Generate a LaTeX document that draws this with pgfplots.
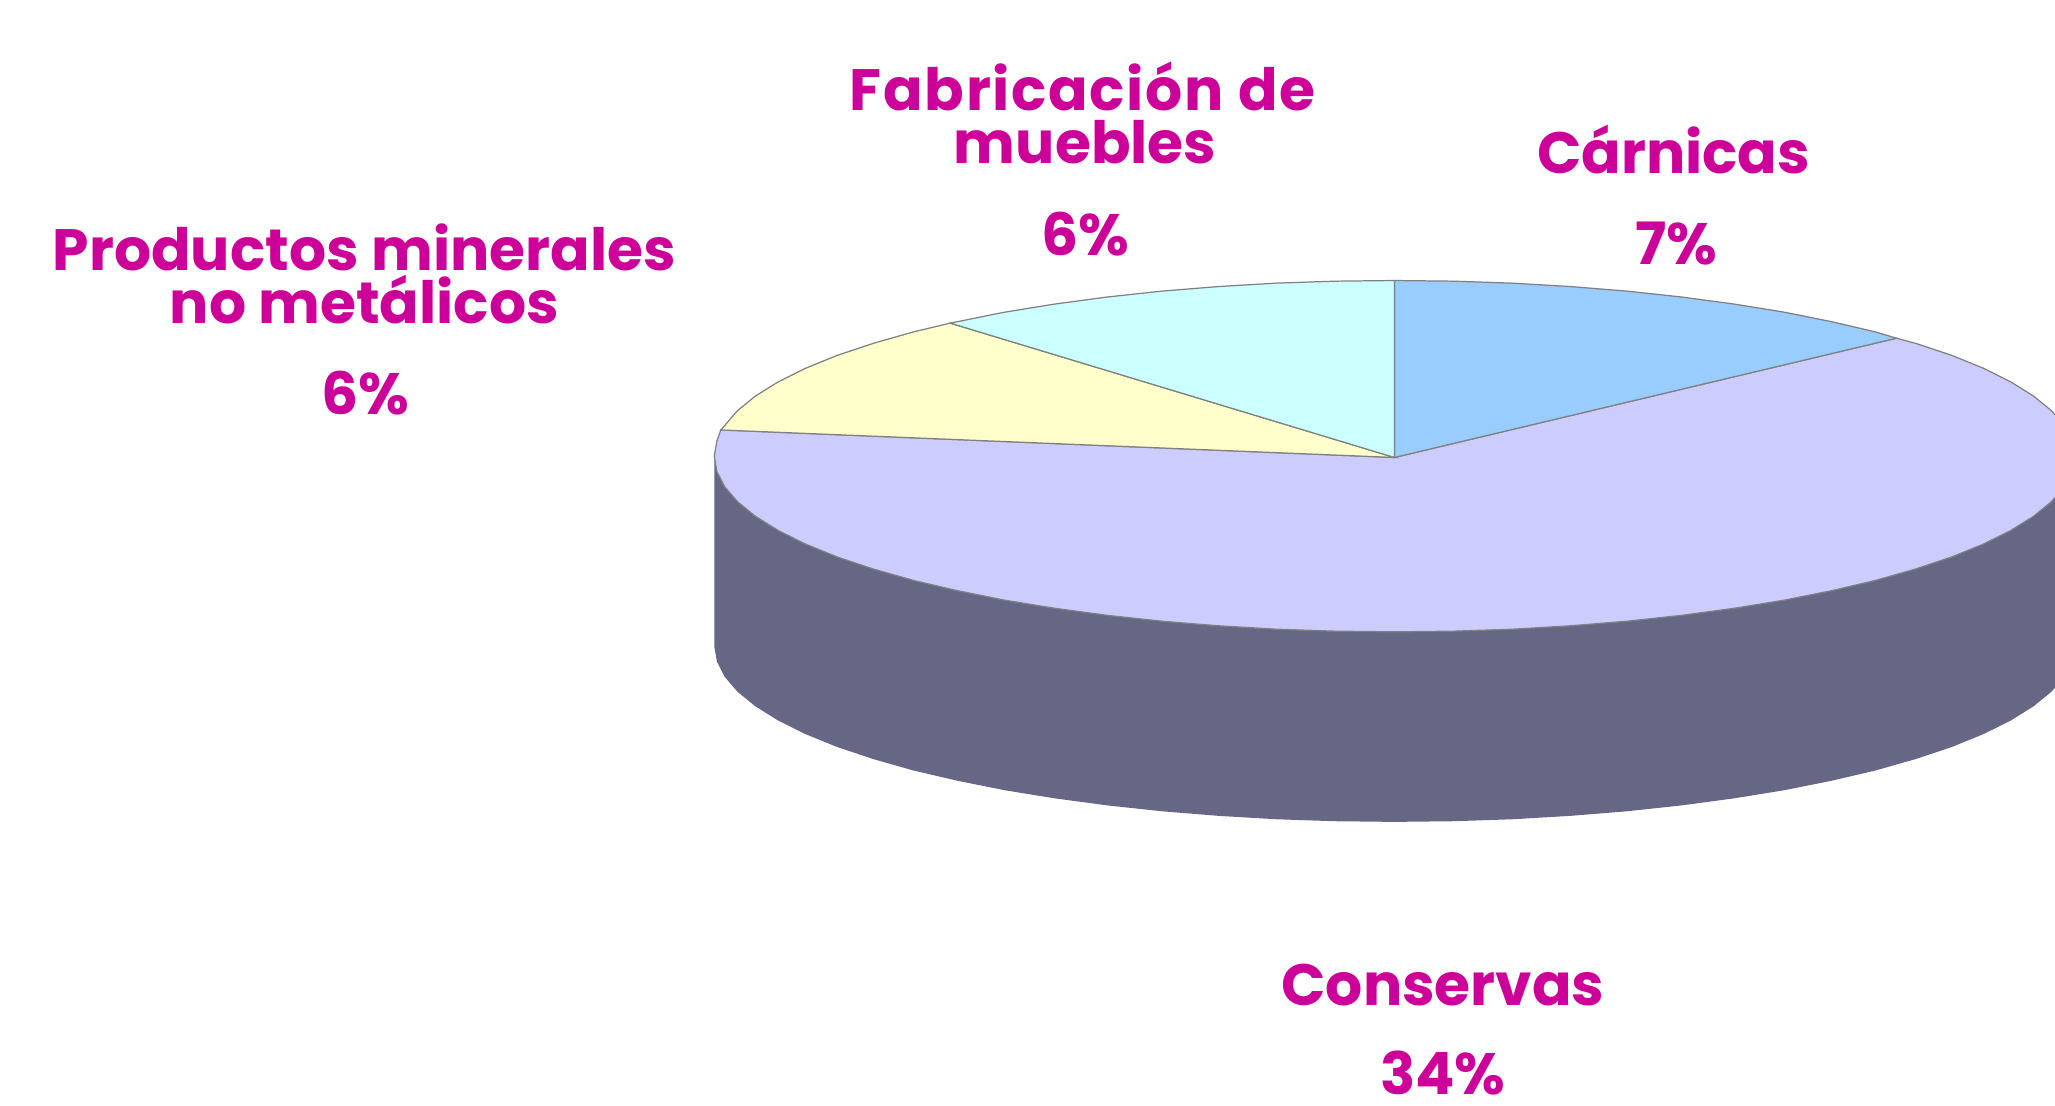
\documentclass[border=0pt]{standalone}
\usepackage{fontspec}
\setmainfont{Poppins}
\usepackage{pgfplots}
\pgfplotsset{compat=1.18}
\definecolor{txt}{HTML}{CC0099}
\definecolor{cBlue}{HTML}{99CCFF}
\definecolor{cLilac}{HTML}{CCCCFF}
\definecolor{cSide}{HTML}{666685}
\definecolor{cYellow}{HTML}{FFFFCC}
\definecolor{cCyan}{HTML}{CCFFFF}
\definecolor{edge}{HTML}{808080}
\tikzset{lbl/.style={anchor=base, text=txt, font=\fontsize{16.6}{17}\selectfont\bfseries, inner sep=0pt}}
\begin{document}
\begin{tikzpicture}
\begin{axis}[
  scale only axis, width=20.55cm, height=11.05cm,
  xmin=0, xmax=1568, ymin=0, ymax=843,
  y dir=reverse, ticks=none, axis line style={draw=none},
]
% side wall
\addplot[fill=cSide, draw=none] coordinates {
 (545,348)(547,359.7)(552.9,371.3)(562.7,382.7)(576.3,393.8)(593.6,404.6)(614.5,415)(638.8,424.9)(666.4,434.1)(697,442.8)(730.4,450.6)(766.3,457.8)(804.5,464)(844.7,469.4)(886.5,473.9)(929.7,477.4)(973.9,480)(1018.7,481.5)(1064,482)
 (1109.3,481.5)(1154.1,480)(1198.3,477.4)(1241.5,473.9)(1283.3,469.4)(1323.5,464)(1361.7,457.8)(1397.6,450.6)(1431,442.8)(1461.6,434.1)(1489.2,424.9)(1513.5,415)(1534.4,404.6)(1551.7,393.8)(1565.3,382.7)(1575.1,371.3)(1581,359.7)(1583,348)
 (1583,493)(1581,504.7)(1575.1,516.3)(1565.3,527.7)(1551.7,538.8)(1534.4,549.6)(1513.5,560)(1489.2,569.9)(1461.6,579.1)(1431,587.8)(1397.6,595.6)(1361.7,602.8)(1323.5,609)(1283.3,614.4)(1241.5,618.9)(1198.3,622.4)(1154.1,625)(1109.3,626.5)(1064,627)
 (1018.7,626.5)(973.9,625)(929.7,622.4)(886.5,618.9)(844.7,614.4)(804.5,609)(766.3,602.8)(730.4,595.6)(697,587.8)(666.4,579.1)(638.8,569.9)(614.5,560)(593.6,549.6)(576.3,538.8)(562.7,527.7)(552.9,516.3)(547,504.7)(545,493)
} -- cycle;
% Conservas
\addplot[fill=cLilac, draw=edge, line width=0.35pt] coordinates {
 (1064,349)(1447,258)(1461.6,261.9)(1489.2,271.1)(1513.5,281)(1534.4,291.4)(1551.7,302.2)(1565.3,313.3)(1575.1,324.7)(1581,336.3)(1583,348)
 (1581,359.7)(1575.1,371.3)(1565.3,382.7)(1551.7,393.8)(1534.4,404.6)(1513.5,415)(1489.2,424.9)(1461.6,434.1)(1431,442.8)(1397.6,450.6)(1361.7,457.8)(1323.5,464)(1283.3,469.4)(1241.5,473.9)(1198.3,477.4)(1154.1,480)(1109.3,481.5)(1064,482)
 (1018.7,481.5)(973.9,480)(929.7,477.4)(886.5,473.9)(844.7,469.4)(804.5,464)(766.3,457.8)(730.4,450.6)(697,442.8)(666.4,434.1)(638.8,424.9)(614.5,415)(593.6,404.6)(576.3,393.8)(562.7,382.7)(552.9,371.3)(547,359.7)(545,348)(547,336.3)(550,328)
} -- cycle;
% Carnicas
\addplot[fill=cBlue, draw=edge, line width=0.35pt] coordinates {
 (1064,349)(1064,214)(1109.3,214.5)(1154.1,216)(1198.3,218.6)(1241.5,222.1)(1283.3,226.6)(1323.5,232)(1361.7,238.2)(1397.6,245.4)(1431,253.2)(1447,258)
} -- cycle;
% Productos minerales no metalicos
\addplot[fill=cYellow, draw=edge, line width=0.35pt] coordinates {
 (1064,349)(550,328)(552.9,324.7)(562.7,313.3)(576.3,302.2)(593.6,291.4)(614.5,281)(638.8,271.1)(666.4,261.9)(697,253.2)(725,246.5)
} -- cycle;
% Fabricacion de muebles
\addplot[fill=cCyan, draw=edge, line width=0.35pt] coordinates {
 (1064,349)(725,246.5)(766.3,238.2)(804.5,232)(844.7,226.6)(886.5,222.1)(929.7,218.6)(973.9,216)(1018.7,214.5)(1064,214)
} -- cycle;
\node[lbl] at (axis cs:826,84) {\addfontfeature{LetterSpace=2.9}Fabricación de};
\node[lbl] at (axis cs:828,125) {muebles};
\node[lbl] at (axis cs:828,195) {6\%};
\node[lbl] at (axis cs:278,206) {Productos minerales};
\node[lbl] at (axis cs:278,247) {no metálicos};
\node[lbl] at (axis cs:279,316) {6\%};
\node[lbl] at (axis cs:1277,132) {Cárnicas};
\node[lbl] at (axis cs:1279,202) {7\%};
\node[lbl] at (axis cs:1101,767) {Conservas};
\node[lbl] at (axis cs:1101,835) {34\%};
\end{axis}
\end{tikzpicture}
\end{document}
